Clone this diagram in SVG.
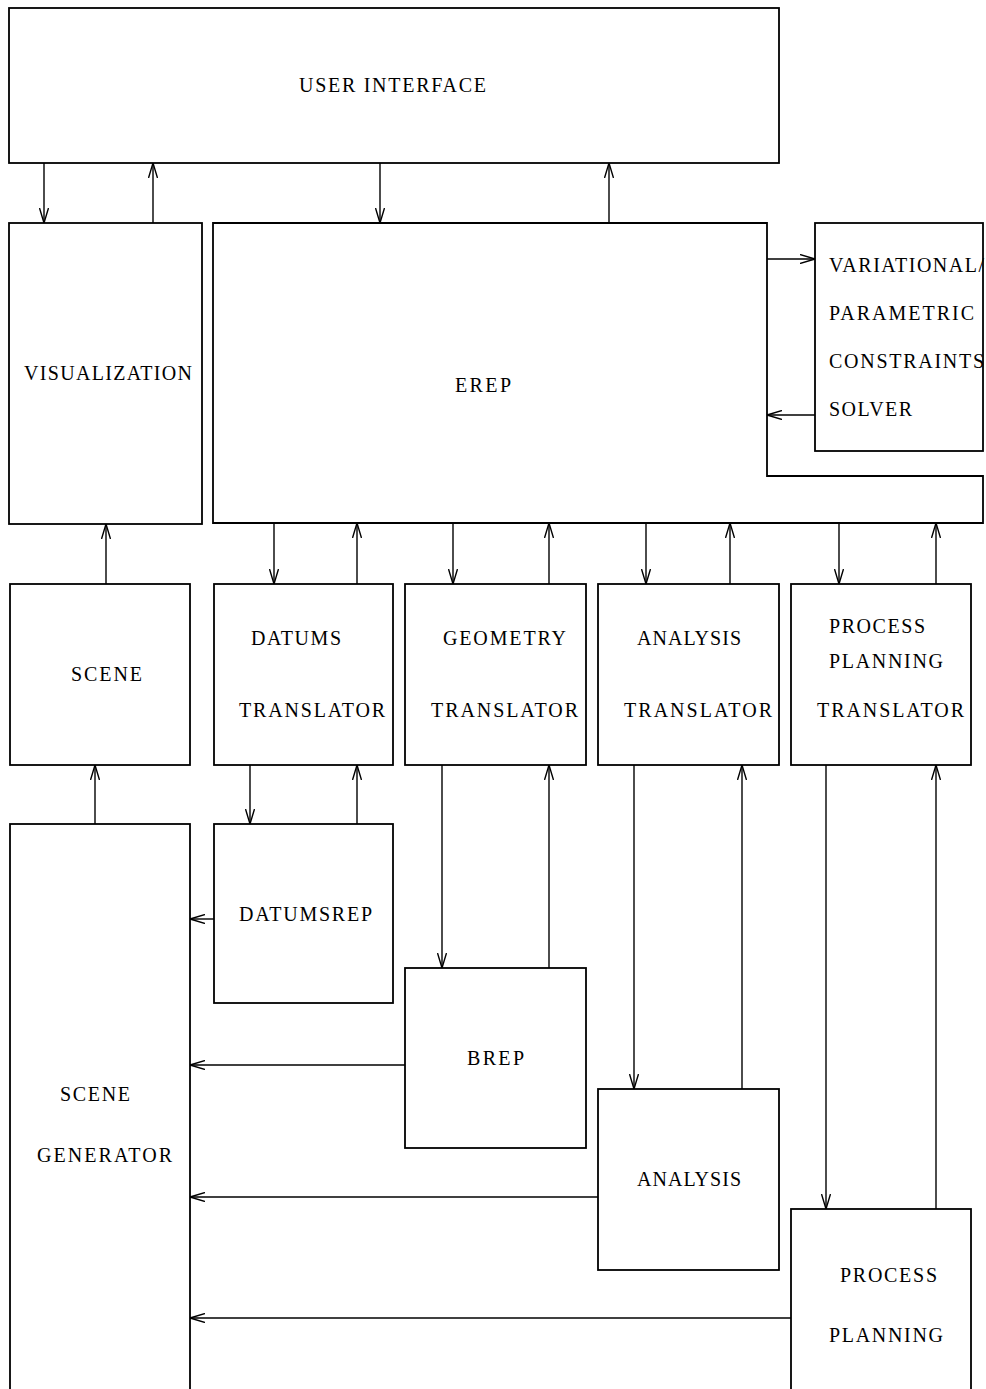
<svg xmlns="http://www.w3.org/2000/svg" width="986" height="1389" viewBox="0 0 986 1389">
<style>
.box{fill:#fff;stroke:#000;stroke-width:1.8}
.t{font-family:"Liberation Serif","Times New Roman",serif;font-size:20px;fill:#000}
.c{fill:none;stroke:#000;stroke-width:1.4;marker-end:url(#ah)}
</style>
<defs>
<marker id="ah" viewBox="0 0 16 10" refX="15" refY="5" markerWidth="16" markerHeight="10" markerUnits="userSpaceOnUse" orient="auto">
<path d="M0,0.5 L15,5 L0,9.5" fill="none" stroke="#000" stroke-width="1.4"/>
</marker>
</defs>
<rect width="986" height="1389" fill="#fff"/>
<g id="connectors">
<line class="c" x1="44" y1="163" x2="44" y2="223"/>
<line class="c" x1="153" y1="223" x2="153" y2="163"/>
<line class="c" x1="380" y1="163" x2="380" y2="223"/>
<line class="c" x1="609" y1="223" x2="609" y2="163"/>
<line class="c" x1="767" y1="259" x2="815" y2="259"/>
<line class="c" x1="815" y1="415" x2="767" y2="415"/>
<line class="c" x1="106" y1="584" x2="106" y2="524"/>
<line class="c" x1="274" y1="523" x2="274" y2="584"/>
<line class="c" x1="357" y1="584" x2="357" y2="523"/>
<line class="c" x1="453" y1="523" x2="453" y2="584"/>
<line class="c" x1="549" y1="584" x2="549" y2="523"/>
<line class="c" x1="646" y1="523" x2="646" y2="584"/>
<line class="c" x1="730" y1="584" x2="730" y2="523"/>
<line class="c" x1="839" y1="523" x2="839" y2="584"/>
<line class="c" x1="936" y1="584" x2="936" y2="523"/>
<line class="c" x1="95" y1="824" x2="95" y2="765"/>
<line class="c" x1="250" y1="765" x2="250" y2="824"/>
<line class="c" x1="357" y1="824" x2="357" y2="765"/>
<line class="c" x1="214" y1="919" x2="190" y2="919"/>
<line class="c" x1="442" y1="765" x2="442" y2="968"/>
<line class="c" x1="549" y1="968" x2="549" y2="765"/>
<line class="c" x1="405" y1="1065" x2="190" y2="1065"/>
<line class="c" x1="634" y1="765" x2="634" y2="1089"/>
<line class="c" x1="742" y1="1089" x2="742" y2="765"/>
<line class="c" x1="598" y1="1197" x2="190" y2="1197"/>
<line class="c" x1="826" y1="765" x2="826" y2="1209"/>
<line class="c" x1="936" y1="1209" x2="936" y2="765"/>
<line class="c" x1="791" y1="1318" x2="190" y2="1318"/>
</g>
<g id="user-interface"><rect class="box" x="9" y="8" width="770" height="155"/><text class="t" x="299" y="92" textLength="187" lengthAdjust="spacing">USER INTERFACE</text></g>
<g id="visualization"><rect class="box" x="9" y="223" width="193" height="301"/><text class="t" x="24" y="380" textLength="168" lengthAdjust="spacing">VISUALIZATION</text></g>
<g id="erep"><path class="box" d="M213,223 H767 V476 H983 V523 H213 Z"/><text class="t" x="455" y="392" textLength="56" lengthAdjust="spacing">EREP</text></g>
<g id="solver"><rect class="box" x="815" y="223" width="168" height="228"/>
<text class="t" x="829" y="272" textLength="155" lengthAdjust="spacing">VARIATIONAL/</text>
<text class="t" x="829" y="320" textLength="145" lengthAdjust="spacing">PARAMETRIC</text>
<text class="t" x="829" y="368" textLength="155" lengthAdjust="spacing">CONSTRAINTS</text>
<text class="t" x="829" y="416" textLength="83" lengthAdjust="spacing">SOLVER</text></g>
<g id="scene"><rect class="box" x="10" y="584" width="180" height="181"/><text class="t" x="71" y="681" textLength="71" lengthAdjust="spacing">SCENE</text></g>
<g id="datums-translator"><rect class="box" x="214" y="584" width="179" height="181"/><text class="t" x="251" y="645" textLength="90" lengthAdjust="spacing">DATUMS</text><text class="t" x="239" y="717" textLength="146" lengthAdjust="spacing">TRANSLATOR</text></g>
<g id="geometry-translator"><rect class="box" x="405" y="584" width="181" height="181"/><text class="t" x="443" y="645" textLength="123" lengthAdjust="spacing">GEOMETRY</text><text class="t" x="431" y="717" textLength="147" lengthAdjust="spacing">TRANSLATOR</text></g>
<g id="analysis-translator"><rect class="box" x="598" y="584" width="181" height="181"/><text class="t" x="637" y="645" textLength="104" lengthAdjust="spacing">ANALYSIS</text><text class="t" x="624" y="717" textLength="148" lengthAdjust="spacing">TRANSLATOR</text></g>
<g id="process-planning-translator"><rect class="box" x="791" y="584" width="180" height="181"/><text class="t" x="829" y="633" textLength="96" lengthAdjust="spacing">PROCESS</text><text class="t" x="829" y="668" textLength="114" lengthAdjust="spacing">PLANNING</text><text class="t" x="817" y="717" textLength="147" lengthAdjust="spacing">TRANSLATOR</text></g>
<g id="scene-generator"><rect class="box" x="10" y="824" width="180" height="570"/><text class="t" x="60" y="1101" textLength="70" lengthAdjust="spacing">SCENE</text><text class="t" x="37" y="1162" textLength="135" lengthAdjust="spacing">GENERATOR</text></g>
<g id="datumsrep"><rect class="box" x="214" y="824" width="179" height="179"/><text class="t" x="239" y="921" textLength="133" lengthAdjust="spacing">DATUMSREP</text></g>
<g id="brep"><rect class="box" x="405" y="968" width="181" height="180"/><text class="t" x="467" y="1065" textLength="57" lengthAdjust="spacing">BREP</text></g>
<g id="analysis"><rect class="box" x="598" y="1089" width="181" height="181"/><text class="t" x="637" y="1186" textLength="104" lengthAdjust="spacing">ANALYSIS</text></g>
<g id="process-planning"><rect class="box" x="791" y="1209" width="180" height="185"/><text class="t" x="840" y="1282" textLength="97" lengthAdjust="spacing">PROCESS</text><text class="t" x="829" y="1342" textLength="114" lengthAdjust="spacing">PLANNING</text></g>
</svg>
